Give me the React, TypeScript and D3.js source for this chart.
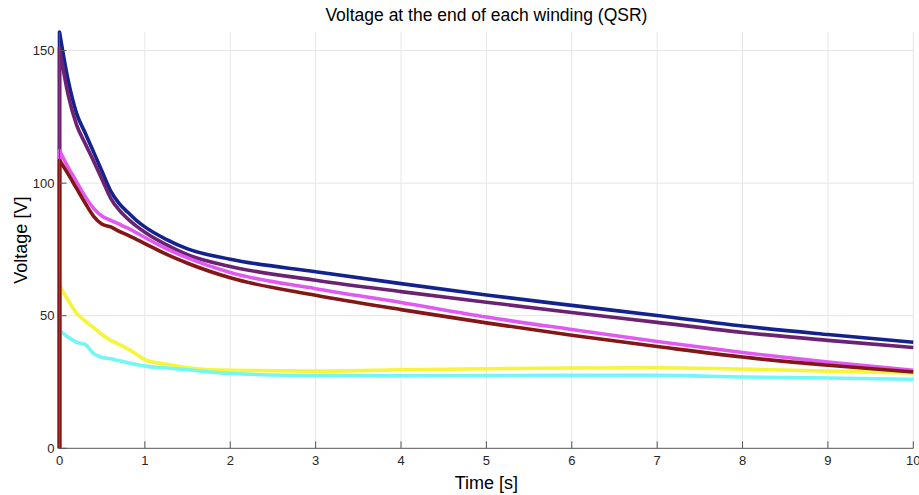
import React from "react";
import * as d3 from "d3";

const TIMES = [0, 0, 0.1, 0.2, 0.3, 0.4, 0.5, 0.6, 0.7, 0.8, 0.9, 1.0, 1.25, 1.5, 2, 3, 4, 5, 6, 7, 8, 9, 10];
const yellowV = [0, 61.4, 55.8, 51, 48, 45.5, 42.8, 40.7, 39.2, 37.5, 35.5, 33.4, 31.7, 30.4, 29.4, 29.1, 29.6, 30, 30.3, 30.4, 29.9, 29.1, 28.4];
const cyanV = [0, 44.5, 42, 40, 39.2, 35.7, 34.2, 33.8, 33, 32.3, 31.6, 31, 30.3, 29.6, 28.2, 27.4, 27.3, 27.4, 27.5, 27.5, 26.9, 26.5, 26];
const blueV = [0, 157, 139, 126.3, 119, 111.7, 104.3, 97, 92.3, 89, 86, 83.5, 78.8, 75.2, 71.3, 66.6, 62.1, 57.8, 53.9, 50.1, 46.1, 42.9, 40];
const purpleV = [0, 151, 133.5, 122, 115, 108.3, 101.3, 94.3, 89.8, 86.5, 83.8, 81.5, 76.8, 73, 68.6, 63.4, 59.1, 55.1, 51.2, 47.5, 43.7, 40.7, 38];
const magentaV = [0, 112.3, 106, 100.5, 95, 90.5, 87.5, 86, 84.5, 83, 81.3, 79.5, 75.3, 71.8, 66.3, 60.2, 55, 49.5, 44.8, 40.3, 36.1, 32.5, 29.4];
const redV = [0, 108.6, 103.5, 98, 92.5, 87.5, 84.5, 83.5, 81.8, 80.4, 78.8, 77.2, 73.2, 69.8, 64.3, 57.7, 52.3, 47.3, 42.6, 38.4, 34.4, 31.3, 28.8];

const SERIES = [
  { name: "yellow", color: "#f5f53a", values: yellowV },
  { name: "cyan", color: "#72f6f6", values: cyanV },
  { name: "blue", color: "#142290", values: blueV },
  { name: "purple", color: "#6c2273", values: purpleV },
  { name: "magenta", color: "#e258f2", values: magentaV },
  { name: "red", color: "#841616", values: redV },
];

const X_TICKS = [0, 1, 2, 3, 4, 5, 6, 7, 8, 9, 10];
const Y_TICKS = [0, 50, 100, 150];

const W = 919, H = 495;
const L = 59.5, R = 913.3, T = 32, B = 448.3;
const FONT = "'Liberation Sans', Arial, Helvetica, sans-serif";

export default function App() {
  const x = d3.scaleLinear().domain([0, 10]).range([L, R]);
  const y = d3.scaleLinear().domain([0, 157]).range([B, T]);
  const line = d3
    .line<[number, number]>()
    .x((d) => x(d[0]))
    .y((d) => y(d[1]))
    .curve(d3.curveMonotoneX);

  const pathFor = (vals: number[]) => {
    const pts: [number, number][] = TIMES.map((t, i) => [t, vals[i]]);
    const rest = line(pts.slice(1)) || "";
    return `M${x(pts[0][0])},${y(pts[0][1])}L` + rest.slice(1);
  };

  return (
    <svg
      width={W}
      height={H}
      style={{ position: "absolute", left: 0, top: 0, background: "#fff" }}
      fontFamily={FONT}
    >
      <rect x={0} y={0} width={W} height={H} fill="#fff" />
      {X_TICKS.filter((t) => t > 0).map((t) => (
        <line key={"gx" + t} x1={x(t)} x2={x(t)} y1={T} y2={B} stroke="#e6e6e6" strokeWidth={1} />
      ))}
      {Y_TICKS.filter((t) => t > 0).map((t) => (
        <line key={"gy" + t} x1={L} x2={R} y1={y(t)} y2={y(t)} stroke="#e6e6e6" strokeWidth={1} />
      ))}
      {SERIES.map((s) => (
        <path
          key={s.name}
          d={pathFor(s.values)}
          fill="none"
          stroke={s.color}
          strokeWidth={3.6}
          strokeLinejoin="round"
        />
      ))}
      <line x1={L} x2={R} y1={B} y2={B} stroke="#555" strokeWidth={1} />
      <line x1={L} x2={L} y1={T} y2={B} stroke="#555" strokeWidth={1} />
      {X_TICKS.map((t) => (
        <g key={"xt" + t}>
          <line x1={x(t)} x2={x(t)} y1={B} y2={B - 7} stroke="#555" strokeWidth={1} />
          <text x={x(t)} y={B + 17} textAnchor="middle" fontSize={13} fill="#262626">
            {t}
          </text>
        </g>
      ))}
      {Y_TICKS.map((t) => (
        <g key={"yt" + t}>
          <line x1={L} x2={L + 7} y1={y(t)} y2={y(t)} stroke="#555" strokeWidth={1} />
          <text x={L - 5} y={y(t) + 4.5} textAnchor="end" fontSize={13} fill="#262626">
            {t}
          </text>
        </g>
      ))}
      <text x={(L + R) / 2} y={21} textAnchor="middle" fontSize={17.5} fill="#000">
        Voltage at the end of each winding (QSR)
      </text>
      <text x={(L + R) / 2} y={489} textAnchor="middle" fontSize={18} fill="#000">
        Time [s]
      </text>
      <text
        transform={`translate(27,${(T + B) / 2}) rotate(-90)`}
        textAnchor="middle"
        fontSize={18}
        fill="#000"
      >
        Voltage [V]
      </text>
    </svg>
  );
}
